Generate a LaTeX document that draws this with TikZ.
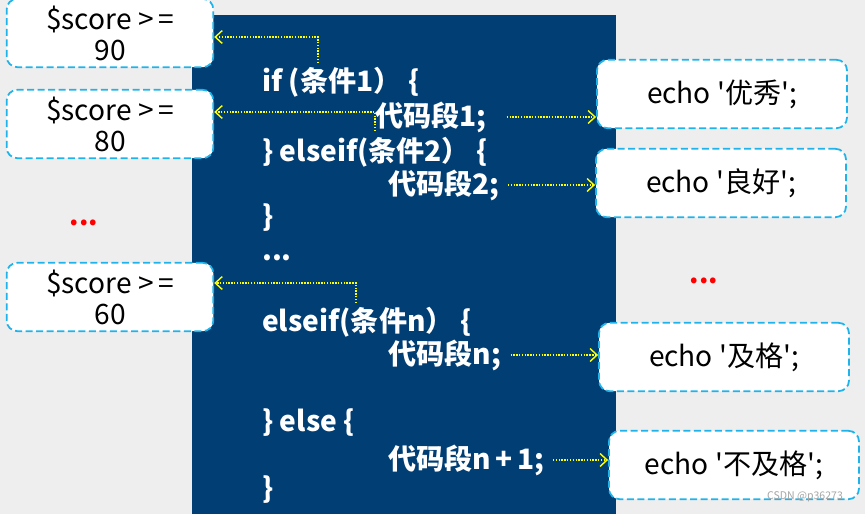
\documentclass[tikz,border=0pt]{standalone}
\usepackage{fontspec}
\newfontfamily\yahei{Noto Sans CJK SC}
\usepackage{tikz}
\usetikzlibrary{arrows.meta, positioning}
\definecolor{codeblue}{RGB}{0, 62, 116}
\definecolor{pagegray}{RGB}{238, 238, 238}
\definecolor{boxcyan}{RGB}{30, 180, 235}
\definecolor{flowyellow}{RGB}{255, 255, 0}
\tikzstyle{code} = [anchor=west, inner sep=0pt, text=white, font=\yahei\bfseries\fontsize{24}{28}\selectfont]
\tikzstyle{cond} = [draw=boxcyan, dash pattern=on 6pt off 3pt, line width=1.5pt, rounded corners=9pt, fill=white, minimum width=6.2cm, minimum height=2.05cm, align=center, font=\yahei\fontsize{24}{26.5}\selectfont]
\tikzstyle{outbox} = [cond, minimum width=7.5cm]
\tikzstyle{reddots} = [text=red, font=\yahei\bfseries\fontsize{23}{26}\selectfont]
\tikzstyle{flow} = [flowyellow, line width=1.2pt, dash pattern=on 1.2pt off 1.2pt, -{Straight Barb[length=6pt, width=11pt]}]

\begin{document}
\begin{tikzpicture}[x=0.03cm, y=-0.03cm]
    % Background
    \useasboundingbox (0,0) rectangle (865,514);
    \fill[pagegray] (0,0) rectangle (865,514);
    \fill[codeblue] (192,15) rectangle (616,514);

    % Code lines
    \node[code] (cif) at (262,82) {if (条件1）\ \{};
    \node[code] (c1) at (375,117) {代码段1;};
    \node[code] (celif) at (262,152) {\} elseif(条件2）\ \{};
    \node[code] (c2) at (388,185) {代码段2;};
    \node[code] (cend1) at (262,218) {\}};
    \node[code] (cdots) at (262,258) {...};
    \node[code] (celifn) at (262,322) {elseif(条件n）\ \{};
    \node[code] (c3) at (388,355) {代码段n;};
    \node[code] (celse) at (262,423) {\} else \{};
    \node[code] (c4) at (388,460) {代码段n\,+\,1;};
    \node[code] (cend2) at (262,490) {\}};

    % Conditions
    \node[cond] (s90) at (110,33) {\$score >\,=\\90};
    \node[cond] (s80) at (110,124) {\$score >\,=\\80};
    \node[reddots] (ldots) at (84,223) {...};
    \node[cond] (s60) at (110,297) {\$score >\,=\\60};

    % Outputs
    \node[outbox] (e1) at (722,94) {echo '优秀';};
    \node[outbox] (e2) at (721,183) {echo '良好';};
    \node[reddots] (rdots) at (704,281) {...};
    \node[outbox] (e3) at (724,357) {echo '及格';};
    \node[outbox] (e4) at (734,465) {echo '不及格';};

    % Arrows
    \coordinate (k1) at (318,63);
    \coordinate (k2) at (375,131);
    \coordinate (k3) at (356,303);
    \draw[flow] (k1) |- (s90.east |- 0,37);
    \draw[flow] (k2) |- (s80.east |- 0,112);
    \draw[flow] (k3) |- (s60.east |- 0,283);
    \draw[flow] ([xshift=17pt]c1.east) -- (c1.east -| e1.west);
    \draw[flow] ([xshift=7pt]c2.east) -- (c2.east -| e2.west);
    \draw[flow] ([xshift=8pt]c3.east) -- (c3.east -| e3.west);
    \draw[flow] ([xshift=7pt]c4.east) -- (c4.east -| e4.west);

    % Watermark
    \node[text=gray!70, font=\yahei\fontsize{9}{10}\selectfont] (mark) at (805,497) {CSDN @p36273};
\end{tikzpicture}
\end{document}
